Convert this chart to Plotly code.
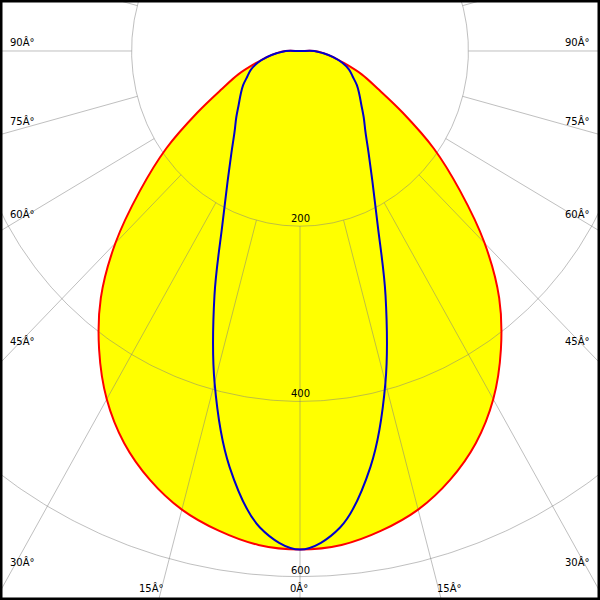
import numpy as np
import plotly.graph_objects as go

# Polar angles (degrees from nadir) and luminous intensity values (cd)
angles = [0, 5, 10, 15, 20, 25, 30, 35, 40, 45, 50, 55, 60, 65, 70, 75, 80, 85, 90]
plane_c0_c180 = [569, 566, 556, 542, 521, 494, 459, 416, 368, 310, 248, 194, 141, 102, 78, 55, 40, 28, 17]
plane_c90_c270 = [569, 546, 482, 392, 297, 218, 172, 142, 121, 107, 95, 86, 78, 69, 62, 52, 40, 27, 17]

ring_values = [200, 400, 600]
ring_labels = ["200", "400", "600"]
spoke_angles = list(range(0, 360, 15))
side_labels = ["90Â°", "75Â°", "60Â°", "45Â°", "30Â°"]
bottom_labels = ["15Â°", "0Â°", "15Â°"]

X_RANGE = [-356.3, 356.3]
Y_RANGE = [-626.7, 58.2]


def outline(vals):
    th = np.radians(angles)
    r = np.array(vals, dtype=float)
    xr = r * np.sin(th)
    yr = -r * np.cos(th)
    x = np.concatenate([xr, [0.0], -xr[::-1]])
    y = np.concatenate([yr, [0.0], yr[::-1]])
    return x, y


fig = go.Figure()

# yellow filled area of C0-C180
xr_, yr_ = outline(plane_c0_c180)
fig.add_trace(go.Scatter(x=xr_, y=yr_, mode="lines", fill="toself",
                         fillcolor="#ffff00", line=dict(width=0, shape="spline", smoothing=1),
                         hoverinfo="skip", showlegend=False))

grid_col = "rgba(128,128,128,0.5)"
# rings
t = np.linspace(0, 2 * np.pi, 721)
for rv in ring_values:
    fig.add_trace(go.Scatter(x=rv * np.sin(t), y=-rv * np.cos(t), mode="lines",
                             line=dict(color=grid_col, width=1),
                             hoverinfo="skip", showlegend=False))
# spokes from the first ring outward
for a in spoke_angles:
    ar = np.radians(a)
    r0, r1 = ring_values[0], 1200
    fig.add_trace(go.Scatter(x=[r0 * np.sin(ar), r1 * np.sin(ar)],
                             y=[-r0 * np.cos(ar), -r1 * np.cos(ar)], mode="lines",
                             line=dict(color=grid_col, width=1),
                             hoverinfo="skip", showlegend=False))

# curves
fig.add_trace(go.Scatter(x=xr_, y=yr_, mode="lines",
                         line=dict(color="#ff0000", width=2, shape="spline", smoothing=1),
                         hoverinfo="skip", showlegend=False))
xb, yb = outline(plane_c90_c270)
fig.add_trace(go.Scatter(x=xb, y=yb, mode="lines",
                         line=dict(color="#0000cc", width=2, shape="spline", smoothing=1),
                         hoverinfo="skip", showlegend=False))

font = dict(family="DejaVu Sans", size=10, color="#000000")
ann = []
# ring labels
ring_label_px = [218.5, 393.5, 570]
for txt, py in zip(ring_labels, ring_label_px):
    ann.append(dict(text=txt, x=0.5, y=1 - py / 600, xref="paper", yref="paper",
                    xanchor="center", yanchor="middle", showarrow=False, font=font))
# side labels
side_py = [42, 121, 214, 341, 562]
for txt, py in zip(side_labels, side_py):
    ann.append(dict(text=txt, x=8 / 600, y=1 - py / 600, xref="paper", yref="paper",
                    xanchor="left", yanchor="middle", showarrow=False, font=font))
    ann.append(dict(text=txt, x=592 / 600, y=1 - py / 600, xref="paper", yref="paper",
                    xanchor="right", yanchor="middle", showarrow=False, font=font))
bottom_px = [151, 299, 449]
for txt, px in zip(bottom_labels, bottom_px):
    ann.append(dict(text=txt, x=px / 600, y=1 - 588 / 600, xref="paper", yref="paper",
                    xanchor="center", yanchor="middle", showarrow=False, font=font))

fig.update_layout(
    width=600, height=600,
    margin=dict(l=0, r=0, t=0, b=0),
    paper_bgcolor="#ffffff", plot_bgcolor="#ffffff",
    xaxis=dict(range=X_RANGE, visible=False, fixedrange=True),
    yaxis=dict(range=Y_RANGE, visible=False, fixedrange=True),
    annotations=ann,
    shapes=[dict(type="rect", xref="paper", yref="paper", x0=0, y0=0, x1=1, y1=1,
                 line=dict(color="#000000", width=5), layer="above")],
)

fig.write_html("out.html", config={"displayModeBar": False},
               post_script="document.body.style.margin='0';document.body.style.padding='0';")
